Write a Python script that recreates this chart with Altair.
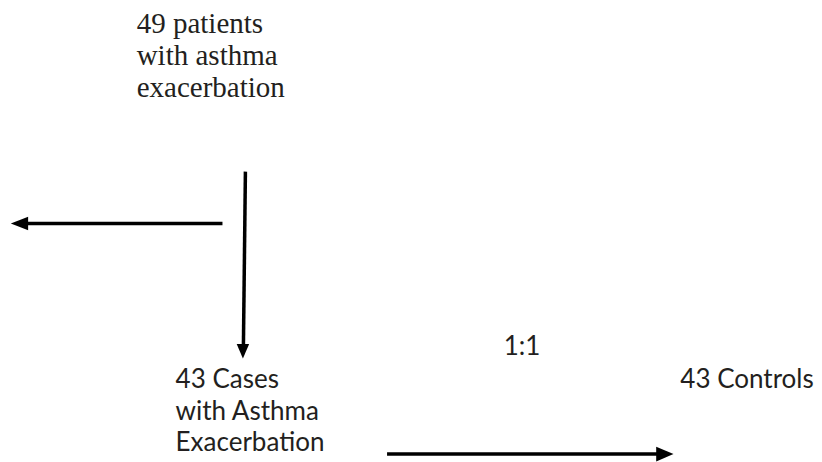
import altair as alt
import pandas as pd

# --- text content ---
top_lines = ["49 patients", "with asthma", "exacerbation"]
top_x = [137, 137, 137]
top_y = [33, 65, 97]

case_lines = ["43 Cases", "with Asthma", "Exacerbation", "1:1", "43 Controls"]
case_x = [176, 176, 176, 505, 682]
case_y = [389, 421, 452, 356, 389]

# --- arrow shafts (page pixel coordinates) ---
seg_x = [246, 223, 388]
seg_y = [172, 224, 455]
seg_x2 = [244, 28, 660]
seg_y2 = [347, 224, 455]

# --- arrow heads ---
head_dir = ["down", "left", "right"]
head_x = [243.5, 19.5, 666.5]
head_y = [352, 224, 455]
head_paths = [
    "M0,1L-0.86,-1L0.86,-1Z",
    "M-1,0L1,-0.78L1,0.78Z",
    "M1,0L-1,-0.85L-1,0.85Z",
]
head_sizes = [210, 300, 300]

W, H = 806, 454
xs = alt.Scale(domain=[8, 8 + W], nice=False, zero=False)
ys = alt.Scale(domain=[8, 8 + H], nice=False, zero=False, reverse=True)

top_df = pd.DataFrame({"t": top_lines, "x": top_x, "y": top_y})
case_df = pd.DataFrame({"t": case_lines, "x": case_x, "y": case_y})
seg_df = pd.DataFrame({"x": seg_x, "y": seg_y, "x2": seg_x2, "y2": seg_y2})
head_df = pd.DataFrame({"d": head_dir, "x": head_x, "y": head_y, "s": head_sizes})

top_text = alt.Chart(top_df).mark_text(
    align="left", baseline="alphabetic", font="Liberation Serif", fontSize=29, color="#231f20"
).encode(x=alt.X("x:Q", scale=xs, axis=None), y=alt.Y("y:Q", scale=ys, axis=None), text="t:N")

case_text = alt.Chart(case_df).mark_text(
    align="left", baseline="alphabetic", font="Lato", fontSize=26, color="#231f20"
).encode(x=alt.X("x:Q", scale=xs, axis=None), y=alt.Y("y:Q", scale=ys, axis=None), text="t:N")

segs = alt.Chart(seg_df).mark_rule(color="black", strokeWidth=3.5).encode(
    x=alt.X("x:Q", scale=xs, axis=None), y=alt.Y("y:Q", scale=ys, axis=None), x2="x2:Q", y2="y2:Q"
)

heads = alt.Chart(head_df).mark_point(filled=True, color="black", opacity=1, strokeWidth=0).encode(
    x=alt.X("x:Q", scale=xs, axis=None),
    y=alt.Y("y:Q", scale=ys, axis=None),
    shape=alt.Shape("d:N", scale=alt.Scale(domain=head_dir, range=head_paths), legend=None),
    size=alt.Size("s:Q", scale=None, legend=None),
)

chart = alt.layer(segs, heads, top_text, case_text).properties(
    width=W, height=H, padding=0,
    autosize=alt.AutoSizeParams(type="fit", contains="padding"),
    background="white",
).configure_view(stroke=None)

chart.save("out.html", embed_options={"renderer": "svg", "actions": False})
